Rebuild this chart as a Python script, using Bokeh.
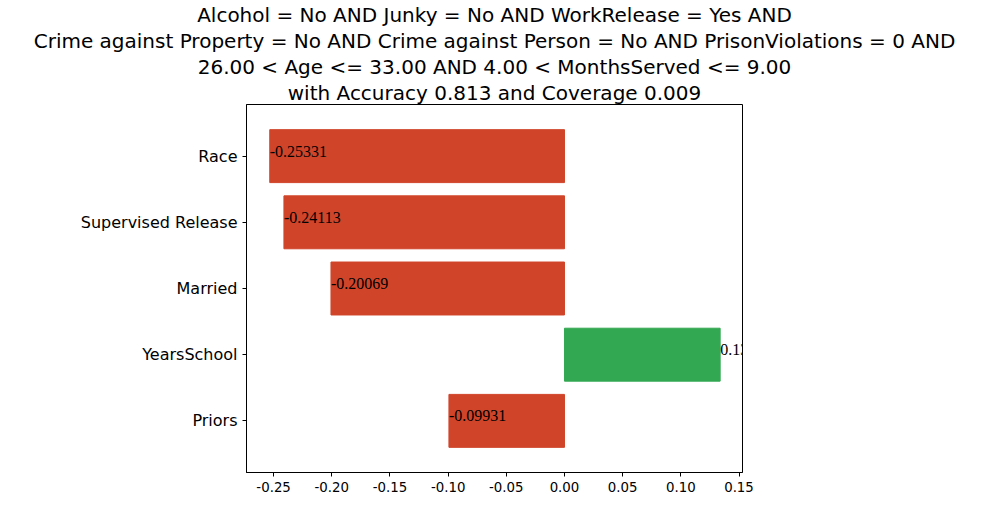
from bokeh.plotting import figure
from bokeh.models import ColumnDataSource, Title, SingleIntervalTicker, NumeralTickFormatter, Range1d, FactorRange, LabelSet
from bokeh.embed import file_html
from bokeh.resources import INLINE

features = ["Race", "Supervised Release", "Married", "YearsSchool", "Priors"]
weights = [-0.25331, -0.24113, -0.20069, 0.13379, -0.09931]
labels = ["-0.25331", "-0.24113", "-0.20069", "0.13379", "-0.09931"]
colors = ["#d0452a" if w < 0 else "#33a852" for w in weights]
title_lines = [
    "Alcohol = No AND Junky = No AND WorkRelease = Yes AND",
    "Crime against Property = No AND Crime against Person = No AND PrisonViolations = 0 AND",
    "26.00 < Age <= 33.00 AND 4.00 < MonthsServed <= 9.00",
    "with Accuracy 0.813 and Coverage 0.009",
]

src = ColumnDataSource(dict(y=features, w=weights, lab=labels, c=colors))
yr = FactorRange(factors=list(reversed(features)), range_padding=0.28, range_padding_units="absolute")
p = figure(y_range=yr, x_range=Range1d(-0.2733, 0.153),
           frame_width=496, frame_height=368, min_border_left=246, min_border_right=228,
           min_border_bottom=27, min_border_top=8,
           output_backend="svg", toolbar_location=None)
p.hbar(y="y", left=0, right="w", height=0.8, color="c", source=src)
p.add_layout(LabelSet(x="w", y="y", text="lab", source=src, text_font_size="12pt", text_align="left",
                      text_baseline="middle", y_offset=5, text_font="DejaVu Sans", text_color="black"))
for line in reversed(title_lines):
    p.add_layout(Title(text=line, align="center", text_font_size="15pt", text_font_style="normal",
                       text_font="DejaVu Sans", text_color="black", standoff=0), "above")
p.xgrid.visible = False
p.ygrid.visible = False
p.xaxis.ticker = SingleIntervalTicker(interval=0.05)
p.xaxis.formatter = NumeralTickFormatter(format="0.00")
p.xaxis.minor_tick_line_color = None
p.yaxis.minor_tick_line_color = None
p.yaxis.major_label_text_font_size = "12pt"
p.xaxis.major_label_text_font_size = "10pt"
for ax in (p.xaxis, p.yaxis):
    ax.major_label_text_font = "DejaVu Sans"
    ax.major_label_text_color = "black"
    ax.axis_line_color = "black"
    ax.major_tick_line_color = "black"
    ax.major_tick_in = 0
    ax.major_tick_out = 4
p.outline_line_color = "black"
p.outline_line_alpha = 1
open("out.html", "w").write(file_html(p, INLINE))
